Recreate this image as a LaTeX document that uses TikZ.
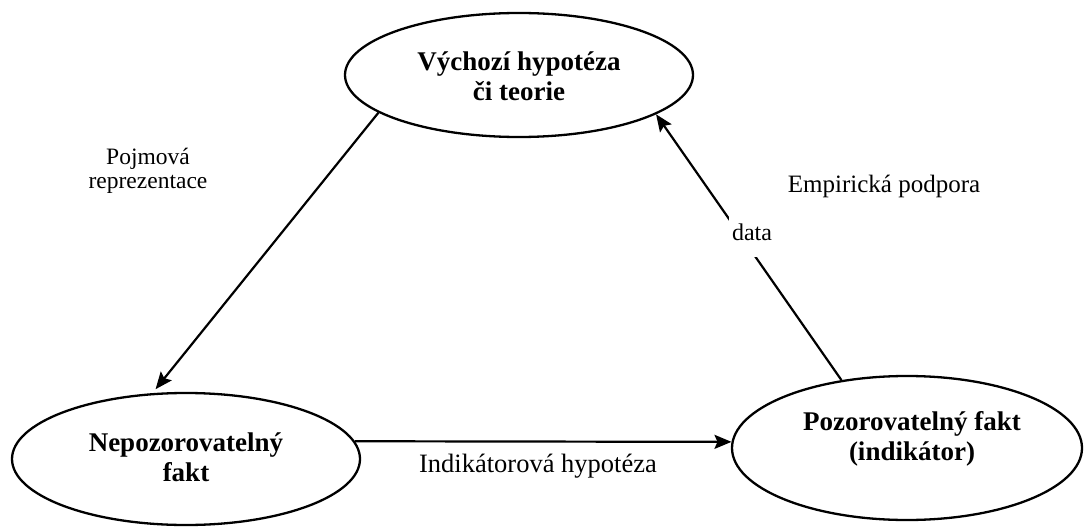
\documentclass[tikz,border=0pt]{standalone}
\usepackage{fontspec}
\setmainfont{Liberation Serif}
\usetikzlibrary{shapes.geometric,arrows.meta}
\begin{document}
\begin{tikzpicture}[x=1pt,y=-1pt,
  ell/.style={ellipse,draw,line width=2.3pt,inner sep=0pt},
  btext/.style={align=center,font=\fontsize{27}{30}\selectfont\bfseries,inner sep=0pt},
  rtext/.style={align=center,font=\fontsize{24}{24}\selectfont,inner sep=0pt},
  arr/.style={line width=2.2pt,-{Stealth[length=17pt,width=14pt,inset=3pt]}}]
\useasboundingbox (0,0) rectangle (1090,532);
\node[ell,minimum width=348pt,minimum height=124pt] (top) at (519,75) {};
\node[ell,minimum width=348pt,minimum height=132pt] (left) at (186,459) {};
\node[ell,minimum width=350pt,minimum height=144pt] (right) at (907,448) {};
\node[btext] (toptxt) at (519,76) {Výchozí hypotéza\\či teorie};
\node[btext] (lefttxt) at (186,457) {Nepozorovatelný\\fakt};
\node[btext] (righttxt) at (912,439) {Pozorovatelný fakt\\(indikátor)};
\draw[arr,shorten >=5pt] (top.195.7) -- (left.117.6);
\draw[arr] (left.6.5) -- (right.178.4);
\draw[arr] (right.134) -- (top.344.5);
\node[rtext,fill=white,inner xsep=3pt,inner ysep=17pt] (data) at (752,232) {data};
\node[rtext,font=\fontsize{23.5}{24}\selectfont] (pojm) at (148,171) {Pojmová\\reprezentace};
\node[rtext,font=\fontsize{25}{25}\selectfont] (emp) at (884,186) {Empirická podpora};
\node[rtext,font=\fontsize{26.5}{27}\selectfont] (ind) at (538,466) {Indikátorová hypotéza};
\end{tikzpicture}
\end{document}
